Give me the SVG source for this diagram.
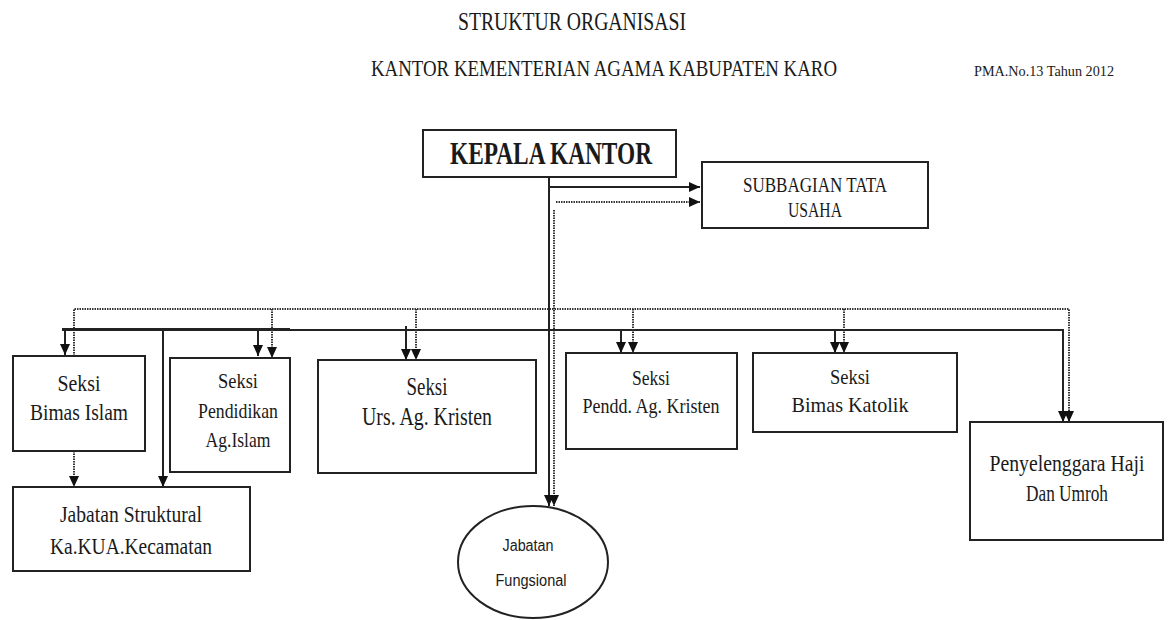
<svg xmlns="http://www.w3.org/2000/svg" width="1173" height="620" viewBox="0 0 1173 620">
<style>
.box{fill:#fff;stroke:#222;stroke-width:2}
.t{font-family:'Liberation Serif','DejaVu Serif',serif;fill:#1a1a1a;text-anchor:middle}
.l{text-anchor:start}
.s{font-family:'Liberation Sans',Arial,sans-serif;fill:#1a1a1a;text-anchor:middle}
.solid{fill:none;stroke:#222;stroke-width:2}
.dot{fill:none;stroke:#333;stroke-width:2;stroke-dasharray:1.5 1}
</style>
<defs>
<marker id="ah" markerUnits="userSpaceOnUse" markerWidth="12" markerHeight="10" refX="11" refY="5" orient="auto">
<path d="M0,0 L11,5 L0,10 z" fill="#111"/>
</marker>
</defs>
<rect width="1173" height="620" fill="#fff"/>
<g id="title">
<text class="t l" x="458" y="30" font-size="25" textLength="228" lengthAdjust="spacingAndGlyphs">STRUKTUR ORGANISASI</text>
<text class="t l" x="371" y="76" font-size="24" textLength="466" lengthAdjust="spacingAndGlyphs">KANTOR KEMENTERIAN AGAMA KABUPATEN KARO</text>
<text class="t l" x="974" y="76" font-size="14" textLength="140" lengthAdjust="spacingAndGlyphs">PMA.No.13 Tahun 2012</text>
</g>
<g id="connectors">
<path class="solid" d="M549,177 V506" marker-end="url(#ah)"/>
<path class="solid" d="M549,187 H700" marker-end="url(#ah)"/>
<path class="dot" d="M556,202 H700" marker-end="url(#ah)"/>
<path class="dot" d="M554,210 V506" marker-end="url(#ah)"/>
<path class="dot" d="M74,356 V309 H1069 V422" marker-end="url(#ah)"/>
<path class="solid" d="M62,330 H1063 V422" marker-end="url(#ah)"/>
<path class="solid" d="M62,329 H290" stroke-width="3"/>
<path class="solid" d="M65,330 V355" marker-end="url(#ah)"/>
<path class="solid" d="M163,330 V487" marker-end="url(#ah)"/>
<path class="solid" d="M258,330 V356" marker-end="url(#ah)"/>
<path class="dot" d="M272,309 V358" marker-end="url(#ah)"/>
<path class="solid" d="M406,326 V360" marker-end="url(#ah)"/>
<path class="dot" d="M416,309 V360" marker-end="url(#ah)"/>
<path class="solid" d="M621,330 V353" marker-end="url(#ah)"/>
<path class="dot" d="M633,309 V353" marker-end="url(#ah)"/>
<path class="solid" d="M835,330 V353" marker-end="url(#ah)"/>
<path class="dot" d="M844,309 V353" marker-end="url(#ah)"/>
<path class="dot" d="M74,451 V487" marker-end="url(#ah)"/>
</g>
<g id="kepala">
<rect class="box" x="423" y="130" width="253" height="47"/>
<text class="t" x="551" y="164" font-size="31" font-weight="bold" textLength="202" lengthAdjust="spacingAndGlyphs">KEPALA KANTOR</text>
</g>
<g id="subbagian">
<rect class="box" x="702" y="162" width="226" height="66"/>
<text class="t" x="815" y="192" font-size="20" textLength="144" lengthAdjust="spacingAndGlyphs">SUBBAGIAN TATA</text>
<text class="t" x="815" y="217" font-size="20" textLength="54" lengthAdjust="spacingAndGlyphs">USAHA</text>
</g>
<g id="bimas-islam">
<rect class="box" x="13" y="356" width="132" height="95"/>
<text class="t" x="79" y="391" font-size="23" textLength="43" lengthAdjust="spacingAndGlyphs">Seksi</text>
<text class="t" x="79" y="420" font-size="23" textLength="98" lengthAdjust="spacingAndGlyphs">Bimas Islam</text>
</g>
<g id="pendidikan">
<rect class="box" x="170" y="358" width="120" height="114"/>
<text class="t" x="238" y="388" font-size="22" textLength="40" lengthAdjust="spacingAndGlyphs">Seksi</text>
<text class="t" x="238" y="418" font-size="22" textLength="80" lengthAdjust="spacingAndGlyphs">Pendidikan</text>
<text class="t" x="238" y="447" font-size="22" textLength="65" lengthAdjust="spacingAndGlyphs">Ag.Islam</text>
</g>
<g id="urs-kristen">
<rect class="box" x="318" y="360" width="218" height="113"/>
<text class="t" x="427" y="395" font-size="25" textLength="41" lengthAdjust="spacingAndGlyphs">Seksi</text>
<text class="t" x="427" y="425" font-size="25" textLength="130" lengthAdjust="spacingAndGlyphs">Urs. Ag. Kristen</text>
</g>
<g id="pendd-kristen">
<rect class="box" x="566" y="353" width="171" height="96"/>
<text class="t" x="651" y="385" font-size="22" textLength="38" lengthAdjust="spacingAndGlyphs">Seksi</text>
<text class="t" x="651" y="413" font-size="22" textLength="137" lengthAdjust="spacingAndGlyphs">Pendd. Ag. Kristen</text>
</g>
<g id="bimas-katolik">
<rect class="box" x="753" y="353" width="204" height="79"/>
<text class="t" x="850" y="384" font-size="22" textLength="40" lengthAdjust="spacingAndGlyphs">Seksi</text>
<text class="t" x="850" y="412" font-size="22" textLength="117" lengthAdjust="spacingAndGlyphs">Bimas Katolik</text>
</g>
<g id="haji">
<rect class="box" x="970" y="422" width="193" height="118"/>
<text class="t" x="1067" y="471" font-size="23" textLength="155" lengthAdjust="spacingAndGlyphs">Penyelenggara Haji</text>
<text class="t" x="1067" y="501" font-size="23" textLength="82" lengthAdjust="spacingAndGlyphs">Dan Umroh</text>
</g>
<g id="struktural">
<rect class="box" x="13" y="487" width="237" height="84"/>
<text class="t" x="131" y="522" font-size="23" textLength="142" lengthAdjust="spacingAndGlyphs">Jabatan Struktural</text>
<text class="t" x="131" y="554" font-size="23" textLength="162" lengthAdjust="spacingAndGlyphs">Ka.KUA.Kecamatan</text>
</g>
<g id="fungsional">
<ellipse class="box" cx="533" cy="562" rx="75" ry="56"/>
<text class="s" x="528" y="551" font-size="16" textLength="51" lengthAdjust="spacingAndGlyphs">Jabatan</text>
<text class="s" x="531" y="586" font-size="16" textLength="71" lengthAdjust="spacingAndGlyphs">Fungsional</text>
</g>
</svg>
